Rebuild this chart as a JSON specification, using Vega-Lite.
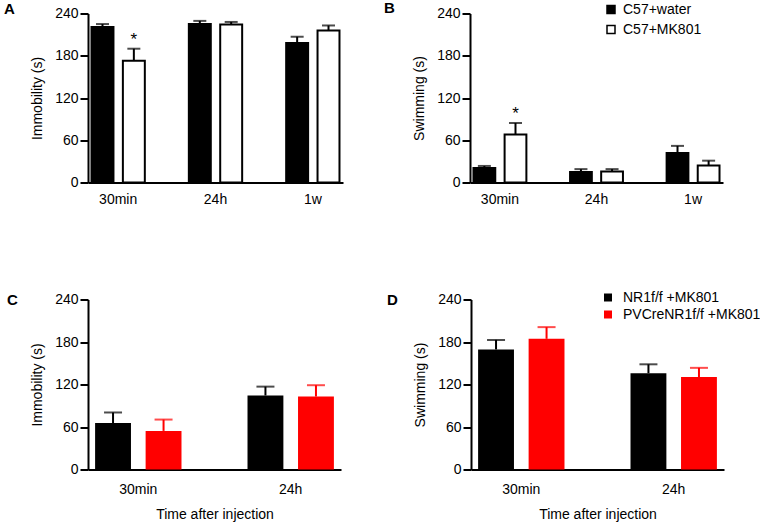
{
  "$schema": "https://vega.github.io/schema/vega-lite/v6.json",
  "padding": {"left": 4, "top": 0.5, "right": 0, "bottom": 0},
  "config": {
    "font": "Liberation Sans",
    "view": {"stroke": null},
    "axis": {"domainColor": "black", "domainWidth": 2, "tickColor": "black", "tickWidth": 2, "labelColor": "black", "titleColor": "black", "labelFontSize": 14, "titleFontSize": 14, "titleFontWeight": "normal", "grid": false},
    "axisY": {"tickSize": 8, "labelPadding": 2, "titlePadding": 10},
    "axisX": {"ticks": false, "labelAngle": 0, "labelPadding": 10, "titlePadding": 11},
    "title": {"anchor": "start", "frame": "group", "fontSize": 15, "fontWeight": "bold", "color": "black", "baseline": "middle", "offset": 0},
    "legend": {"orient": "none", "title": null, "symbolType": "square", "symbolSize": 64, "labelFontSize": 14, "labelColor": "black", "padding": 0}
  },
  "datasets": {
    "c57": [
      {"time": "30min", "group": "C57+water", "measure": "Immobility", "mean": 221, "top": 225},
      {"time": "30min", "group": "C57+MK801", "measure": "Immobility", "mean": 173, "top": 190, "sig": "*"},
      {"time": "24h", "group": "C57+water", "measure": "Immobility", "mean": 225, "top": 229.5},
      {"time": "24h", "group": "C57+MK801", "measure": "Immobility", "mean": 224.5, "top": 228},
      {"time": "1w", "group": "C57+water", "measure": "Immobility", "mean": 198, "top": 207},
      {"time": "1w", "group": "C57+MK801", "measure": "Immobility", "mean": 216, "top": 223},
      {"time": "30min", "group": "C57+water", "measure": "Swimming", "mean": 20.5, "top": 23.5},
      {"time": "30min", "group": "C57+MK801", "measure": "Swimming", "mean": 68, "top": 84.5, "sig": "*"},
      {"time": "24h", "group": "C57+water", "measure": "Swimming", "mean": 15, "top": 19},
      {"time": "24h", "group": "C57+MK801", "measure": "Swimming", "mean": 15.5, "top": 19},
      {"time": "1w", "group": "C57+water", "measure": "Swimming", "mean": 42, "top": 52},
      {"time": "1w", "group": "C57+MK801", "measure": "Swimming", "mean": 24, "top": 31}
    ],
    "pv": [
      {"time": "30min", "group": "NR1f/f +MK801", "measure": "Immobility", "mean": 65.5, "top": 80.5},
      {"time": "30min", "group": "PVCreNR1f/f +MK801", "measure": "Immobility", "mean": 54.5, "top": 70.5},
      {"time": "24h", "group": "NR1f/f +MK801", "measure": "Immobility", "mean": 104.5, "top": 117},
      {"time": "24h", "group": "PVCreNR1f/f +MK801", "measure": "Immobility", "mean": 103, "top": 119},
      {"time": "30min", "group": "NR1f/f +MK801", "measure": "Swimming", "mean": 169.5, "top": 183},
      {"time": "30min", "group": "PVCreNR1f/f +MK801", "measure": "Swimming", "mean": 184.5, "top": 201},
      {"time": "24h", "group": "NR1f/f +MK801", "measure": "Swimming", "mean": 136, "top": 148.5},
      {"time": "24h", "group": "PVCreNR1f/f +MK801", "measure": "Swimming", "mean": 130.5, "top": 143.5}
    ]
  },
  "resolve": {"scale": {"x": "independent", "y": "independent", "xOffset": "independent", "fill": "independent", "color": "independent"}, "legend": {"fill": "independent", "color": "independent"}},
  "vconcat": [
    {
      "spacing": 41,
      "resolve": {"scale": {"x": "independent", "y": "independent", "xOffset": "independent", "fill": "independent", "color": "independent"}, "legend": {"fill": "independent", "color": "independent"}},
      "hconcat": [
        {
          "data": {"name": "c57"},
          "transform": [{"filter": "datum.measure == 'Immobility'"}],
          "width": 255, "height": 169,
          "title": {"text": "A", "dx": -84, "dy": 14},
          "encoding": {
            "x": {"field": "time", "type": "nominal", "sort": ["30min", "24h", "1w"], "scale": {"type": "band", "paddingInner": 0.42, "paddingOuter": 0.02}, "axis": {"title": null}},
            "xOffset": {"field": "group", "type": "nominal", "sort": ["C57+water", "C57+MK801"], "scale": {"type": "band", "paddingInner": 0.3, "paddingOuter": 0.05}}
          },
          "layer": [
            {"mark": {"type": "bar", "stroke": "black", "strokeWidth": 2},
             "encoding": {
               "y": {"field": "mean", "type": "quantitative", "title": "Immobility (s)", "scale": {"domain": [0, 240], "nice": false}, "axis": {"values": [0, 60, 120, 180, 240]}},
               "fill": {"field": "group", "type": "nominal", "scale": {"domain": ["C57+water", "C57+MK801"], "range": ["black", "white"]}, "legend": null}}},
            {"mark": {"type": "rule", "strokeWidth": 2, "color": "black"},
             "encoding": {"y": {"field": "mean", "type": "quantitative", "title": "Immobility (s)"}, "y2": {"field": "top"}}},
            {"mark": {"type": "tick", "thickness": 2, "size": 13, "color": "black"},
             "encoding": {"y": {"field": "top", "type": "quantitative", "title": "Immobility (s)"}}},
            {"transform": [{"filter": "datum.sig"}],
             "mark": {"type": "text", "fontSize": 17, "dy": -4, "baseline": "alphabetic", "color": "black"},
             "encoding": {"y": {"field": "top", "type": "quantitative", "title": "Immobility (s)"}, "text": {"field": "sig"}}}
          ]
        },
        {
          "data": {"name": "c57"},
          "transform": [{"filter": "datum.measure == 'Swimming'"}],
          "width": 253, "height": 169,
          "title": {"text": "B", "dx": -86, "dy": 17.5},
          "encoding": {
            "x": {"field": "time", "type": "nominal", "sort": ["30min", "24h", "1w"], "scale": {"type": "band", "paddingInner": 0.42, "paddingOuter": 0.02}, "axis": {"title": null}},
            "xOffset": {"field": "group", "type": "nominal", "sort": ["C57+water", "C57+MK801"], "scale": {"type": "band", "paddingInner": 0.3, "paddingOuter": 0.05}}
          },
          "layer": [
            {"mark": {"type": "bar", "stroke": "black", "strokeWidth": 2},
             "encoding": {
               "y": {"field": "mean", "type": "quantitative", "title": "Swimming (s)", "scale": {"domain": [0, 240], "nice": false}, "axis": {"values": [0, 60, 120, 180, 240]}},
               "fill": {"field": "group", "type": "nominal", "scale": {"domain": ["C57+water", "C57+MK801"], "range": ["black", "white"]},
                        "legend": {"legendX": 134, "legendY": -11, "labelOffset": 5, "rowPadding": 6, "symbolStrokeColor": "black", "symbolStrokeWidth": 1.5}}}},
            {"mark": {"type": "rule", "strokeWidth": 2, "color": "black"},
             "encoding": {"y": {"field": "mean", "type": "quantitative", "title": "Swimming (s)"}, "y2": {"field": "top"}}},
            {"mark": {"type": "tick", "thickness": 2, "size": 13, "color": "black"},
             "encoding": {"y": {"field": "top", "type": "quantitative", "title": "Swimming (s)"}}},
            {"transform": [{"filter": "datum.sig"}],
             "mark": {"type": "text", "fontSize": 17, "dy": -4, "baseline": "alphabetic", "color": "black"},
             "encoding": {"y": {"field": "top", "type": "quantitative", "title": "Swimming (s)"}, "text": {"field": "sig"}}}
          ]
        }
      ]
    },
    {
      "spacing": 46,
      "resolve": {"scale": {"x": "independent", "y": "independent", "xOffset": "independent", "fill": "independent", "color": "independent"}, "legend": {"fill": "independent", "color": "independent"}},
      "hconcat": [
        {
          "data": {"name": "pv"},
          "transform": [{"filter": "datum.measure == 'Immobility'"}],
          "width": 253, "height": 170,
          "title": {"text": "C", "dx": -81, "dy": 19},
          "encoding": {
            "x": {"field": "time", "type": "nominal", "sort": ["30min", "24h"], "scale": {"type": "band", "paddingInner": 0.4, "paddingOuter": 0.03}, "axis": {"title": "Time after injection", "labelPadding": 13}},
            "xOffset": {"field": "group", "type": "nominal", "sort": ["NR1f/f +MK801", "PVCreNR1f/f +MK801"], "scale": {"type": "band", "paddingInner": 0.29, "paddingOuter": 0.05}}
          },
          "layer": [
            {"mark": {"type": "bar", "strokeWidth": 0},
             "encoding": {
               "y": {"field": "mean", "type": "quantitative", "title": "Immobility (s)", "scale": {"domain": [0, 240], "nice": false}, "axis": {"values": [0, 60, 120, 180, 240]}},
               "fill": {"field": "group", "type": "nominal", "scale": {"domain": ["NR1f/f +MK801", "PVCreNR1f/f +MK801"], "range": ["black", "#ff0000"]}, "legend": null}}},
            {"mark": {"type": "rule", "strokeWidth": 2},
             "encoding": {"y": {"field": "mean", "type": "quantitative", "title": "Immobility (s)"}, "y2": {"field": "top"},
               "color": {"field": "group", "type": "nominal", "scale": {"domain": ["NR1f/f +MK801", "PVCreNR1f/f +MK801"], "range": ["black", "#ff0000"]}, "legend": null}}},
            {"mark": {"type": "tick", "thickness": 2, "size": 18},
             "encoding": {"y": {"field": "top", "type": "quantitative", "title": "Immobility (s)"},
               "color": {"field": "group", "type": "nominal", "scale": {"domain": ["NR1f/f +MK801", "PVCreNR1f/f +MK801"], "range": ["black", "#ff0000"]}, "legend": null}}}
          ]
        },
        {
          "data": {"name": "pv"},
          "transform": [{"filter": "datum.measure == 'Swimming'"}],
          "width": 253, "height": 170,
          "title": {"text": "D", "dx": -84, "dy": 21.5},
          "encoding": {
            "x": {"field": "time", "type": "nominal", "sort": ["30min", "24h"], "scale": {"type": "band", "paddingInner": 0.4, "paddingOuter": 0.03}, "axis": {"title": "Time after injection", "labelPadding": 13}},
            "xOffset": {"field": "group", "type": "nominal", "sort": ["NR1f/f +MK801", "PVCreNR1f/f +MK801"], "scale": {"type": "band", "paddingInner": 0.29, "paddingOuter": 0.05}}
          },
          "layer": [
            {"mark": {"type": "bar", "strokeWidth": 0},
             "encoding": {
               "y": {"field": "mean", "type": "quantitative", "title": "Swimming (s)", "scale": {"domain": [0, 240], "nice": false}, "axis": {"values": [0, 60, 120, 180, 240]}},
               "fill": {"field": "group", "type": "nominal", "scale": {"domain": ["NR1f/f +MK801", "PVCreNR1f/f +MK801"], "range": ["black", "#ff0000"]},
                        "legend": {"legendX": 130, "legendY": -9, "labelOffset": 8, "rowPadding": 3, "symbolStrokeWidth": 0}}}},
            {"mark": {"type": "rule", "strokeWidth": 2},
             "encoding": {"y": {"field": "mean", "type": "quantitative", "title": "Swimming (s)"}, "y2": {"field": "top"},
               "color": {"field": "group", "type": "nominal", "scale": {"domain": ["NR1f/f +MK801", "PVCreNR1f/f +MK801"], "range": ["black", "#ff0000"]}, "legend": null}}},
            {"mark": {"type": "tick", "thickness": 2, "size": 18},
             "encoding": {"y": {"field": "top", "type": "quantitative", "title": "Swimming (s)"},
               "color": {"field": "group", "type": "nominal", "scale": {"domain": ["NR1f/f +MK801", "PVCreNR1f/f +MK801"], "range": ["black", "#ff0000"]}, "legend": null}}}
          ]
        }
      ]
    }
  ],
  "spacing": 84
}
